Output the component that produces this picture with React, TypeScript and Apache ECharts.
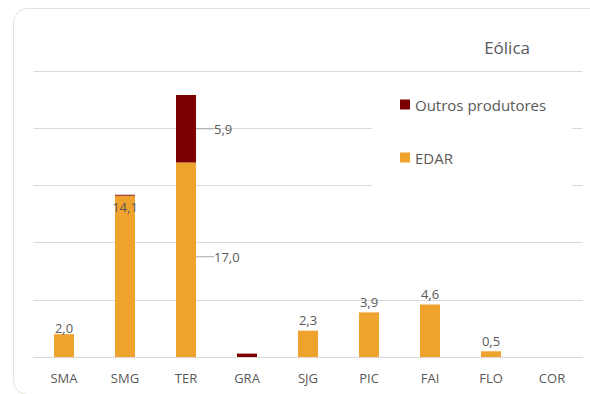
import React, { useEffect, useRef } from "react";
import * as echarts from "echarts";

const categories = ["SMA", "SMG", "TER", "GRA", "SJG", "PIC", "FAI", "FLO", "COR"];
const edar = [2.0, 14.1, 17.0, 0, 2.3, 3.9, 4.6, 0.5, 0];
const outros = [0, 0.08, 5.9, 0.3, 0, 0, 0, 0, 0];
const yTicks = [0, 5, 10, 15, 20, 25];

const FONT = "'Open Sans', 'Noto Sans', sans-serif";
const TXT = "#595959";
const fmt = (v: number) => v.toFixed(1).replace(".", ",");

export default function App() {
  const ref = useRef<HTMLDivElement>(null);
  useEffect(() => {
    if (!ref.current) return;
    const chart = echarts.init(ref.current, null, { renderer: "svg" });
    const leader = { show: true, smooth: 0.3, lineStyle: { color: "#a6a6a6", width: 1 } };
    const edarData = edar.map((v, i) => {
      if (v === 0) return { value: v, label: { show: false } };
      if (i === 1) return { value: v, label: { show: true, position: "insideTop", distance: 5 } };
      if (i === 2)
        return {
          value: v,
          label: { show: true, position: "right", distance: 4 },
          labelLine: leader,
        };
      if (i === 0) return { value: v, label: { show: true, position: "top", distance: 0 } };
      return { value: v, label: { show: true, position: "top", distance: 4 } };
    });
    const outrosData = outros.map((v, i) => {
      if (i === 2)
        return {
          value: v,
          label: { show: true, position: "right", distance: 4 },
          labelLine: leader,
        };
      return { value: v, label: { show: false } };
    });
    chart.setOption({
      animation: false,
      textStyle: { fontFamily: FONT },
      title: {
        text: "Eólica",
        right: 55,
        top: 34,
        textStyle: { color: TXT, fontSize: 17, fontWeight: "normal", fontFamily: FONT },
      },
      graphic: [
        {
          type: "rect",
          shape: { x: 13.5, y: 8.5, width: 600, height: 386, r: 14 },
          style: { fill: "none", stroke: "#e6e1d6", lineWidth: 1 },
          z: 0,
          silent: true,
        },
        {
          type: "rect",
          shape: { x: 372, y: 82, width: 200, height: 106 },
          style: { fill: "#ffffff" },
          z: 1,
          silent: true,
        },
      ],
      legend: {
        orient: "vertical",
        left: 395,
        top: 92,
        itemGap: 38,
        itemWidth: 10,
        itemHeight: 10,
        icon: "rect",
        data: ["Outros produtores", "EDAR"],
        textStyle: { color: TXT, fontSize: 15, fontFamily: FONT },
        z: 5,
      },
      grid: { left: 33.5, right: 7.5, top: 71, bottom: 37 },
      xAxis: {
        type: "category",
        data: categories,
        axisLine: { show: true, lineStyle: { color: "#d9d9d9", width: 1 } },
        axisTick: { show: false },
        axisLabel: { color: TXT, fontSize: 13, margin: 14, fontFamily: FONT },
      },
      yAxis: {
        type: "value",
        min: yTicks[0],
        max: yTicks[yTicks.length - 1],
        interval: 5,
        axisLabel: { show: false },
        axisLine: { show: false },
        axisTick: { show: false },
        splitLine: { lineStyle: { color: "#d9d9d9", width: 1 } },
      },
      series: [
        {
          name: "EDAR",
          type: "bar",
          stack: "a",
          barWidth: 20,
          itemStyle: { color: "#f0a22e" },
          label: { color: TXT, fontSize: 13, fontFamily: FONT, formatter: (p: any) => fmt(p.value) },
          labelLayout: (p: any) => (p.dataIndex === 2 ? { dx: 14, dy: -3 } : {}),
          data: edarData,
          z: 2,
        },
        {
          name: "Outros produtores",
          type: "bar",
          stack: "a",
          barWidth: 20,
          itemStyle: { color: "#7b0000" },
          label: { color: TXT, fontSize: 13, fontFamily: FONT, formatter: (p: any) => fmt(p.value) },
          labelLayout: (p: any) => (p.dataIndex === 2 ? { dx: 14 } : {}),
          data: outrosData,
          z: 2,
        },
      ],
    });
    return () => chart.dispose();
  }, []);
  return (
    <div
      ref={ref}
      style={{ position: "fixed", left: 0, top: 0, width: 590, height: 394, background: "#fff" }}
    />
  );
}
